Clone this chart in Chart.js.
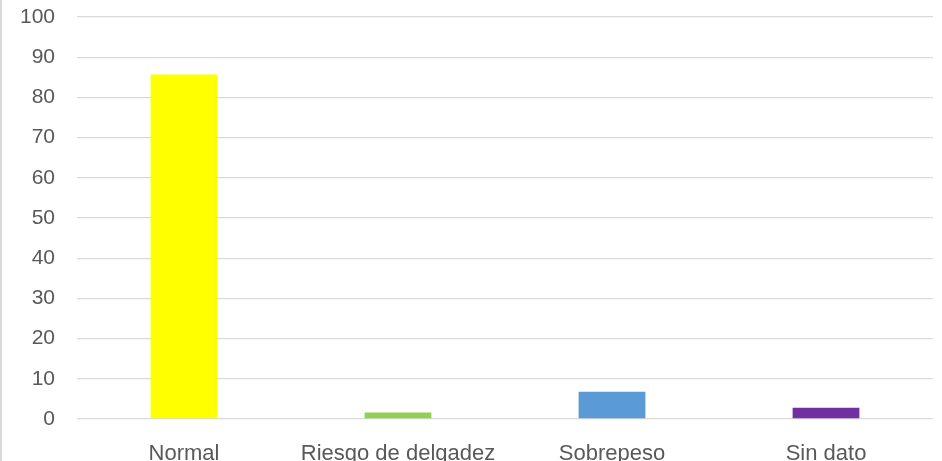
<!DOCTYPE html>
<html>
<head>
<meta charset="utf-8">
<script src="https://cdn.jsdelivr.net/npm/chart.js@4/dist/chart.umd.min.js"></script>
<style>
  html, body { margin: 0; padding: 0; background: #fff; }
  #wrap { position: relative; width: 942px; height: 461px; box-sizing: border-box; border-left: 2px solid #d9d9d9; }
</style>
</head>
<body>
<div id="wrap"><canvas id="chart" width="940" height="461"></canvas></div>
<script>
'use strict'

// Data ---------------------------------------------------------
const categories = ['Normal', 'Riesgo de delgadez', 'Sobrepeso', 'Sin dato'];
const values = [85.7, 1.6, 6.8, 2.8];
const barColors = ['#ffff00', '#92d050', '#5b9bd5', '#7030a0'];
const yTicks = [0, 10, 20, 30, 40, 50, 60, 70, 80, 90, 100];

// Chart ---------------------------------------------------------
const ctx = document.getElementById('chart').getContext('2d');

function noPadding(scale) {
  scale.paddingTop = 0;
  scale.paddingBottom = 0;
  scale.paddingLeft = 0;
  scale.paddingRight = 0;
}

const myChart = new Chart(ctx, {
  type: 'bar',
  data: {
    labels: categories,
    datasets: [{
      data: values,
      backgroundColor: barColors,
      borderWidth: 0,
      barPercentage: 0.52,
      categoryPercentage: 0.6
    }]
  },
  options: {
    responsive: false,
    animation: false,
    layout: { padding: { top: 17, right: 9, bottom: 0, left: 0 } },
    plugins: {
      legend: { display: false },
      tooltip: { enabled: false }
    },
    scales: {
      x: {
        grid: { display: false },
        border: { display: false },
        ticks: {
          color: '#595959',
          font: { family: 'Liberation Sans', size: 22 },
          padding: 14,
          maxRotation: 0,
          autoSkip: false
        },
        afterFit: function (scale) {
          scale.height = 42;
          noPadding(scale);
        }
      },
      y: {
        min: 0,
        max: 100,
        afterBuildTicks: function (scale) {
          scale.ticks = yTicks.map(v => ({ value: v }));
        },
        grid: { color: '#d9d9d9', lineWidth: 1.3, drawTicks: false },
        border: { display: false },
        ticks: {
          color: '#595959',
          font: { family: 'Liberation Sans', size: 21 },
          padding: 22
        },
        afterFit: function (scale) {
          scale.width = 75;
          noPadding(scale);
        }
      }
    }
  }
});
</script>
</body>
</html>
